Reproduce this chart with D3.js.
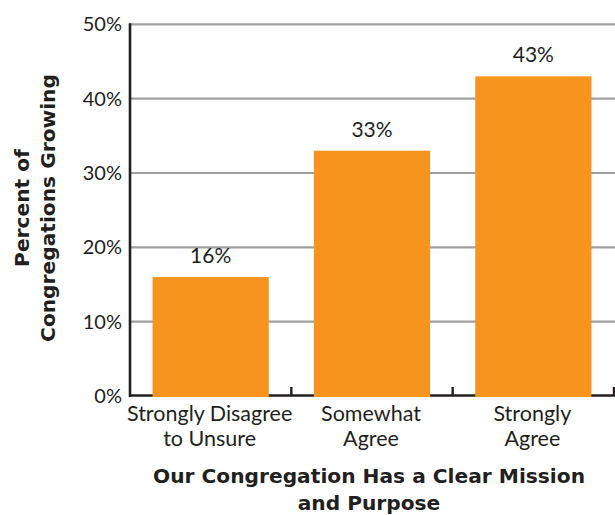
<!DOCTYPE html>
<html>
<head>
<meta charset="utf-8">
<script src="https://cdn.jsdelivr.net/npm/d3@7"></script>
<style>
  html, body { margin: 0; padding: 0; background: #fff; }
  svg { display: block; }
  text { font-family: Lato, "Open Sans", sans-serif; fill: #231f20; }
  .bold { font-family: "DejaVu Sans", sans-serif; font-weight: bold; }
</style>
</head>
<body>
<svg id="chart" width="615" height="515"></svg>
<script>
const categories = [["Strongly Disagree", "to Unsure"], ["Somewhat", "Agree"], ["Strongly", "Agree"]];
const values = [16, 33, 43];
const yTicks = [0, 10, 20, 30, 40, 50];
const yTitle = ["Percent of", "Congregations Growing"];
const xTitle = ["Our Congregation Has a Clear Mission", "and Purpose"];

const svg = d3.select("#chart");
const mLeft = 130, mRight = 614, mTop = 24.3, mBottom = 396;

const x = d3.scaleBand().domain(d3.range(categories.length)).range([mLeft, mRight]).paddingInner(0.28).paddingOuter(0.14);
const y = d3.scaleLinear().domain([0, 50]).range([mBottom, mTop]);

// gridlines
svg.append("g").selectAll("line").data(yTicks.filter(d => d > 0)).join("line")
  .attr("x1", mLeft + 1).attr("x2", 615)
  .attr("y1", d => y(d)).attr("y2", d => y(d))
  .attr("stroke", "#a0a0a0").attr("stroke-width", 2.2);

// y tick labels
svg.append("g").selectAll("text").data(yTicks).join("text")
  .attr("x", 122).attr("y", d => y(d) + 7)
  .attr("text-anchor", "end").attr("font-size", 20)
  .text(d => d + "%");

// bottom axis line & ticks
svg.append("line").attr("x1", mLeft - 1).attr("x2", mRight + 1).attr("y1", mBottom - 0.5).attr("y2", mBottom - 0.5)
  .attr("stroke", "#231f20").attr("stroke-width", 2.6);
const boundaries = d3.range(1, categories.length + 1).map(i => mLeft + (mRight - mLeft) * i / categories.length);
svg.append("g").selectAll("line").data(boundaries).join("line")
  .attr("x1", d => d).attr("x2", d => d)
  .attr("y1", mBottom - 9).attr("y2", mBottom)
  .attr("stroke", "#231f20").attr("stroke-width", 2.4);

// bars
svg.append("g").selectAll("rect").data(values).join("rect")
  .attr("x", (d, i) => x(i)).attr("width", x.bandwidth())
  .attr("y", d => y(d)).attr("height", d => y(0) - y(d) + 1)
  .attr("fill", "#f7941d");

// left axis
svg.append("line").attr("x1", mLeft).attr("x2", mLeft).attr("y1", mTop - 1).attr("y2", mBottom + 1)
  .attr("stroke", "#231f20").attr("stroke-width", 2.6);

// value labels
svg.append("g").selectAll("text").data(values).join("text")
  .attr("x", (d, i) => x(i) + x.bandwidth() / 2).attr("y", d => y(d) - 14)
  .attr("text-anchor", "middle").attr("font-size", 21)
  .text(d => d + "%");

// category labels
const cat = svg.append("g").selectAll("text").data(categories).join("text")
  .attr("x", (d, i) => x(i) + x.bandwidth() / 2 - 1).attr("y", 421)
  .attr("text-anchor", "middle").attr("font-size", 21.5);
cat.selectAll("tspan").data(d => d).join("tspan")
  .attr("x", function() { return d3.select(this.parentNode).attr("x"); })
  .attr("dy", (d, i) => i === 0 ? 0 : 24.5)
  .text(d => d);

// x title
svg.append("g").selectAll("text").data(xTitle).join("text")
  .attr("class", "bold")
  .attr("x", 369).attr("y", (d, i) => 483 + i * 27)
  .attr("text-anchor", "middle").attr("font-size", 20.2)
  .text(d => d);

// y title
svg.append("g").selectAll("text").data(yTitle).join("text")
  .attr("class", "bold")
  .attr("transform", (d, i) => `translate(${29 + i * 26},208) rotate(-90)`)
  .attr("text-anchor", "middle").attr("font-size", 20.2)
  .text(d => d);
</script>
</body>
</html>
